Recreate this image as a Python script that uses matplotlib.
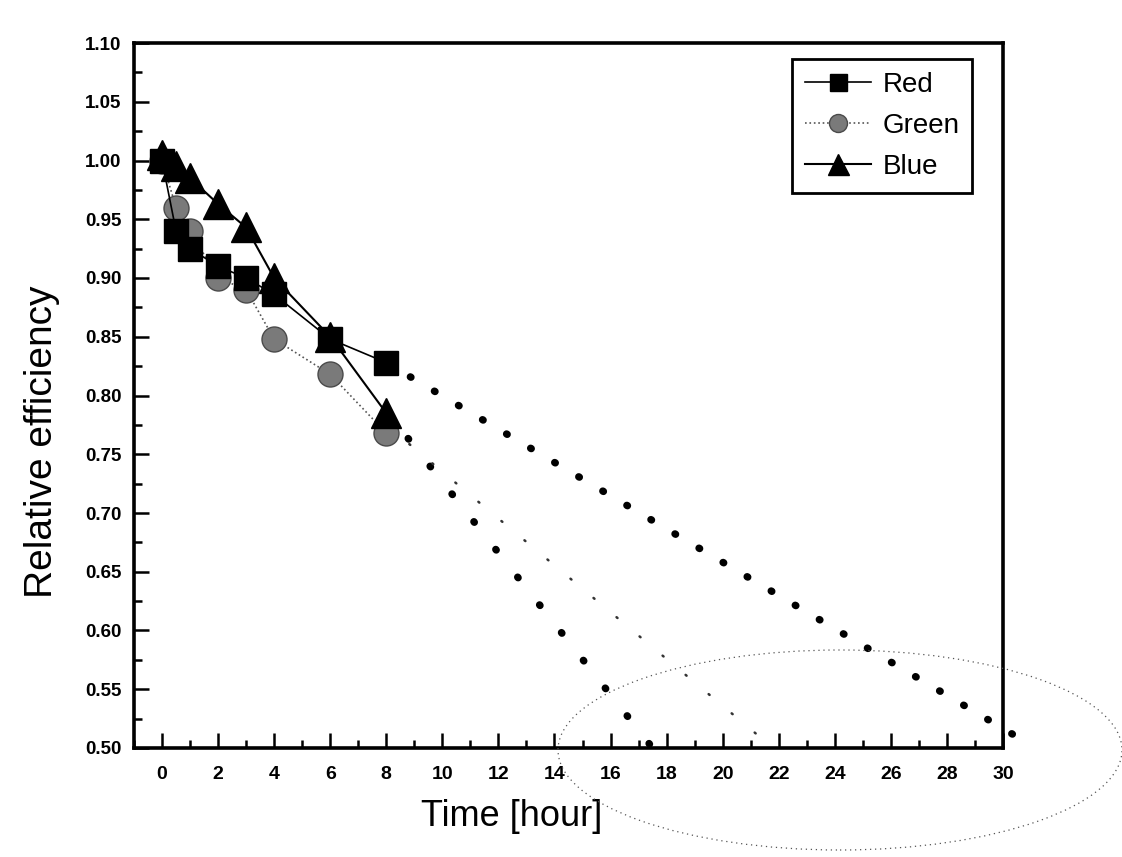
import matplotlib
matplotlib.use('Agg')
import matplotlib.pyplot as plt
from matplotlib.patches import Ellipse
from matplotlib.ticker import MultipleLocator, FormatStrFormatter

time_h = [0, 0.5, 1, 2, 3, 4, 6, 8]
red = [1.000, 0.940, 0.925, 0.910, 0.900, 0.886, 0.848, 0.828]
green = [1.000, 0.960, 0.940, 0.900, 0.890, 0.848, 0.818, 0.768]
blue = [1.005, 0.995, 0.985, 0.963, 0.943, 0.900, 0.850, 0.785]

# extrapolated trends (start / end points)
red_fit_x = [8, 31.1]
red_fit_y = [0.828, 0.501]
green_fit_x = [8, 21.7]
green_fit_y = [0.775, 0.502]
blue_fit_x = [8, 17.4]
blue_fit_y = [0.787, 0.503]

plt.rcParams['font.family'] = ['Liberation Sans', 'DejaVu Sans']

fig = plt.figure(figsize=(11.22, 8.57), dpi=100)
ax = fig.add_axes([134/1122, 1-748/857, 869/1122, 705/857])

# trend lines
ax.plot(red_fit_x, red_fit_y, color='black', lw=5.3, ls=(0, (0.1, 3.7)),
        dash_capstyle='round', clip_on=False, zorder=2)
ax.plot(blue_fit_x, blue_fit_y, color='black', lw=5.3, ls=(0, (0.1, 4.7)),
        dash_capstyle='round', zorder=2)
ax.plot(green_fit_x, green_fit_y, color='#333333', lw=1.8, ls=(0, (0.5, 11.5)),
        dash_capstyle='round', zorder=2)

# measured data
ax.plot(time_h, red, color='black', lw=1.2, marker='s', ms=17,
        label='Red', zorder=4)
ax.plot(time_h, green, color='#555555', lw=1.2, ls=':', marker='o', ms=18,
        mfc='#7a7a7a', mec='#4a4a4a', label='Green', zorder=3)
ax.plot(time_h, blue, color='black', lw=1.5, marker='^', ms=21,
        label='Blue', zorder=5)

ax.set_xlim(-1, 30)
ax.set_ylim(0.50, 1.10)
ax.xaxis.set_major_locator(MultipleLocator(2))
ax.xaxis.set_minor_locator(MultipleLocator(1))
ax.yaxis.set_major_locator(MultipleLocator(0.05))
ax.yaxis.set_minor_locator(MultipleLocator(0.025))
ax.yaxis.set_major_formatter(FormatStrFormatter('%.2f'))

for s in ax.spines.values():
    s.set_linewidth(2.6)
ax.tick_params(which='major', direction='in', length=10.5, width=1.8)
ax.tick_params(which='minor', direction='in', length=5.5, width=1.8)
ax.tick_params(axis='y', which='major', pad=9)
ax.tick_params(axis='x', which='major', pad=13)
for lb in ax.get_yticklabels():
    lb.set_fontsize(13.5)
    lb.set_fontweight('bold')
for lb in ax.get_xticklabels():
    lb.set_fontsize(14)
    lb.set_fontweight('bold')

ax.set_ylabel('Relative efficiency', fontsize=28)
ax.yaxis.set_label_coords(-0.085, 0.435)
ax.set_xlabel('Time [hour]', fontsize=26)
ax.xaxis.set_label_coords(0.435, -0.072)

leg = ax.legend(loc='upper right', bbox_to_anchor=(972/1122, 1-59/857),
                bbox_transform=fig.transFigure, borderaxespad=0,
                fancybox=False, edgecolor='black', framealpha=1,
                fontsize=20, markerscale=0.72, handlelength=2.4,
                labelspacing=0.55, borderpad=0.45, handletextpad=0.4)
leg.get_frame().set_linewidth(2.0)

# hand-drawn dotted circle on the scanned page
ell = Ellipse((840/1122, 1-750/857), 564/1122, 200/857, angle=0,
              transform=fig.transFigure, fill=False, ec='#555555',
              lw=0.9, ls=(0, (1, 3)))
fig.add_artist(ell)

fig.savefig('out.png', dpi=100)
